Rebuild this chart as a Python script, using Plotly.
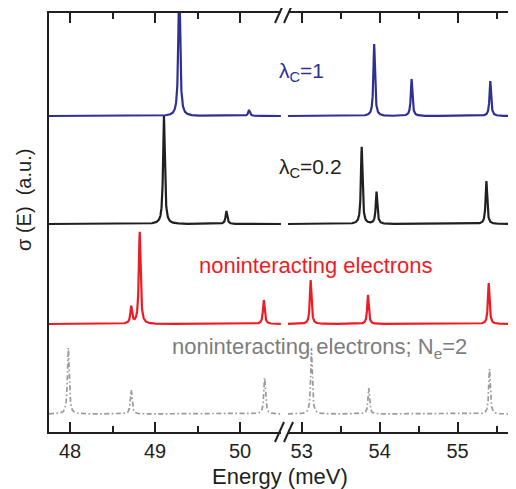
import numpy as np
import plotly.graph_objects as go

# ---------------- data ----------------
# visible energy windows of the broken x axis (meV)
left_window = [47.753, 50.482]
right_window = [52.824, 55.75]

# tick values / labels
left_ticks = [48, 49, 50]
left_minor = [48.5, 49.5]
right_ticks = [53, 54, 55]
right_minor = [53.5, 54.5, 55.5]

# peak energies (meV) and peak heights (a.u.) of each spectrum
blue_E = [49.285, 50.106, 53.93, 54.41, 55.42]
blue_h = [1.40, 0.06, 0.72, 0.37, 0.35]
black_E = [49.105, 49.84, 53.77, 53.96, 55.37]
black_h = [1.08, 0.13, 0.77, 0.32, 0.43]
red_E = [48.72, 48.82, 50.28, 53.115, 53.85, 55.40]
red_h = [0.17, 0.92, 0.24, 0.44, 0.29, 0.41]
gray_E = [47.98, 48.72, 50.29, 53.125, 53.86, 55.41]
gray_h = [0.66, 0.24, 0.36, 0.66, 0.26, 0.45]

# vertical offset of each spectrum (a.u.)
series_names = ["λc=1", "λc=0.2", "noninteracting electrons", "noninteracting electrons; Ne=2"]
series_offset = [3.16, 2.08, 1.08, 0.18]
linewidth_gamma = 0.012  # Lorentzian half width (meV)

# ---------------- figure ----------------
# the page body has an 8px margin, so the figure is placed at (8, 8)
PAGE_OFF = 8
W, H = 516 - PAGE_OFF, 489 - PAGE_OFF
PLOT_L, PLOT_R, PLOT_T, PLOT_B = 49, 516, 13, 432   # page pixels of the plot area
ML = PLOT_L - PAGE_OFF
MT = PLOT_T - PAGE_OFF
MR = 516 - PLOT_R
MB = 489 - PLOT_B
PW, PH = W - ML - MR, H - MT - MB
X1_END = 281
X2_START = 288


def px_x(p):
    return (p - PLOT_L) / PW


def px_y(p):
    return (PLOT_B - p) / PH


def spectrum(E, centers, heights, offset):
    s = np.zeros_like(E)
    for c, h in zip(centers, heights):
        s += h * linewidth_gamma**2 / ((E - c) ** 2 + linewidth_gamma**2)
    return s + offset


E_left = np.arange(left_window[0], left_window[1], 0.001)
E_right = np.arange(right_window[0], right_window[1], 0.001)

styles = [
    dict(color="#2e3192", width=2.2),
    dict(color="#231f20", width=2.2),
    dict(color="#ed1c24", width=2.2),
    dict(color="#9a9a9a", width=1.7, dash="5px,2.5px,1.6px,2.5px"),
]
series = [(blue_E, blue_h), (black_E, black_h), (red_E, red_h), (gray_E, gray_h)]

fig = go.Figure()
for (cE, ch), off, st, name in zip(series, series_offset, styles, series_names):
    fig.add_trace(go.Scatter(x=E_left, y=spectrum(E_left, cE, ch, off), mode="lines",
                             line=st, name=name, showlegend=False, xaxis="x", yaxis="y"))
    fig.add_trace(go.Scatter(x=E_right, y=spectrum(E_right, cE, ch, off), mode="lines",
                             line=st, name=name, showlegend=False, xaxis="x2", yaxis="y"))

FONT = "Liberation Sans, Arial, Helvetica, sans-serif"
axis_common = dict(
    showline=True, linecolor="#231f20", linewidth=2, mirror="ticks",
    ticks="inside", ticklen=10, tickwidth=2, tickcolor="#231f20",
    showgrid=False, zeroline=False,
    tickfont=dict(family=FONT, size=20, color="#231f20"),
)

fig.update_layout(
    width=W, height=H,
    margin=dict(l=ML, r=MR, t=MT, b=MB, autoexpand=False),
    paper_bgcolor="white", plot_bgcolor="white",
    font=dict(family=FONT, color="#231f20"),
    xaxis=dict(domain=[0, px_x(X1_END)], range=left_window, tickmode="array",
               tickvals=left_ticks, ticktext=[str(v) for v in left_ticks],
               minor=dict(tickmode="array", tickvals=left_minor, ticks="inside",
                          ticklen=6, tickwidth=2, tickcolor="#231f20"),
               **axis_common),
    xaxis2=dict(domain=[px_x(X2_START), 1], range=right_window, anchor="y", tickmode="array",
                tickvals=right_ticks, ticktext=[str(v) for v in right_ticks],
                minor=dict(tickmode="array", tickvals=right_minor, ticks="inside",
                           ticklen=6, tickwidth=2, tickcolor="#231f20"),
                **axis_common),
    yaxis=dict(range=[0, PH / 100], showline=True, linecolor="#231f20", linewidth=2,
               showticklabels=False, ticks="", showgrid=False, zeroline=False),
)

# break marks on bottom and top axes
for yb in (PLOT_B, PLOT_T):
    for xc in (279.5, 288.5):
        fig.add_shape(type="line", xref="paper", yref="paper",
                      x0=px_x(xc - 4.5), y0=px_y(yb + 10), x1=px_x(xc + 4.5), y1=px_y(yb - 10),
                      line=dict(color="#231f20", width=2))

ann = [
    ("λ<sub>C</sub>=1", 277, 72, "#2e3192", 21),
    ("λ<sub>C</sub>=0.2", 277, 168, "#231f20", 21),
    ("noninteracting electrons", 197, 265, "#ed1c24", 22),
    ("noninteracting electrons; N<sub>e</sub>=2", 170, 348, "#7d7d7d", 22),
]
for txt, x, y, col, fs in ann:
    fig.add_annotation(text=txt, xref="paper", yref="paper", x=px_x(x), y=px_y(y),
                       xanchor="left", yanchor="middle", showarrow=False,
                       font=dict(family=FONT, size=fs, color=col))

fig.add_annotation(text="Energy (meV)", xref="paper", yref="paper", x=px_x(280), y=px_y(476),
                   xanchor="center", yanchor="middle", showarrow=False,
                   font=dict(family=FONT, size=22, color="#231f20"))
fig.add_annotation(text="σ (E)  (a.u.)", xref="paper", yref="paper", x=px_x(24), y=px_y(200),
                   xanchor="center", yanchor="middle", textangle=-90, showarrow=False,
                   font=dict(family=FONT, size=20, color="#231f20"))

fig.write_html("out.html")
